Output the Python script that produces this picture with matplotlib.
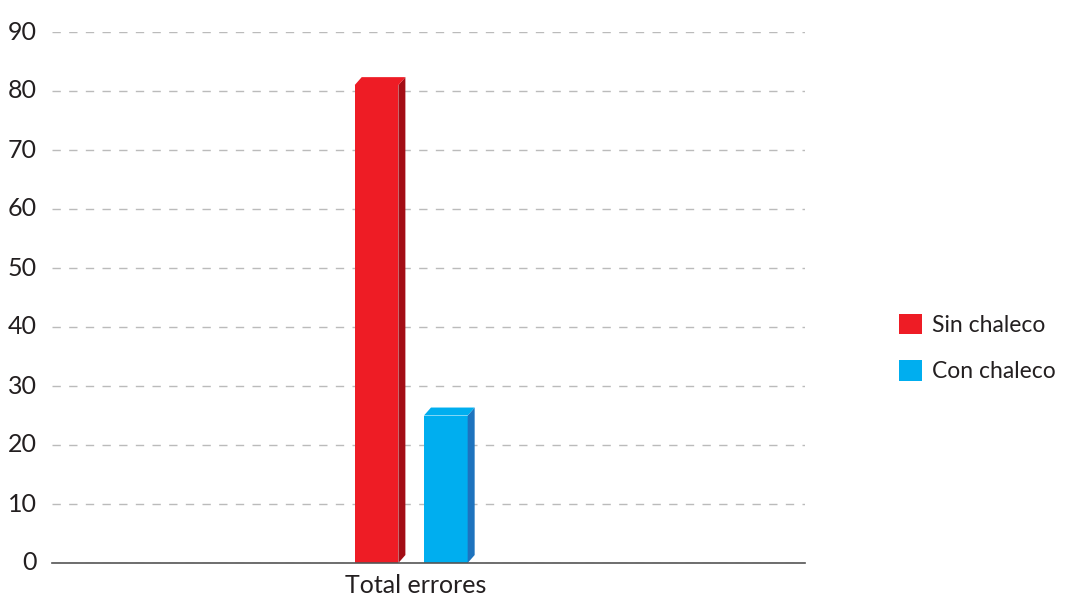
import matplotlib.pyplot as plt
from matplotlib.patches import Polygon, Patch

# data
categories = ["Total errores"]
series = ["Sin chaleco", "Con chaleco"]
values = [81, 25]
colors = ["#EE1C25", "#00AEEF"]
side_colors = ["#A30D15", "#1E73BE"]

plt.rcParams['font.family'] = ['Lato', 'DejaVu Sans']
text_color = "#231F20"

fig = plt.figure(figsize=(10.72, 5.98), dpi=100)
ax = fig.add_axes([52/1072, 1 - 563/598, 753/1072, 531/598])

bar_w = 0.058
gap = 0.034
depth_x = 0.0093
depth_y = 1.35

starts = [-0.081, -0.081 + bar_w + gap]
for x0, v, c, sc in zip(starts, values, colors, side_colors):
	ax.bar(x0, v, width=bar_w, align="edge", color=c, zorder=3)
	# side face
	ax.add_patch(Polygon([(x0 + bar_w, 0), (x0 + bar_w + depth_x, depth_y),
		(x0 + bar_w + depth_x, v + depth_y), (x0 + bar_w, v)],
		closed=True, color=sc, zorder=3, lw=0))
	# top face
	ax.add_patch(Polygon([(x0, v), (x0 + depth_x, v + depth_y),
		(x0 + bar_w + depth_x, v + depth_y), (x0 + bar_w, v)],
		closed=True, color=c, zorder=3, lw=0))

ax.set_xlim(-0.483, 0.517)
ax.set_ylim(0, 90)
ax.set_yticks(range(0, 91, 10))
ax.set_xticks([0])
ax.set_xticklabels(categories)
ax.tick_params(axis="both", length=0, labelsize=18, colors=text_color)
ax.tick_params(axis="y", pad=11)
ax.tick_params(axis="x", pad=8)
for lab in ax.get_yticklabels():
	lab.set_verticalalignment("center")

ax.yaxis.grid(True, linestyle=(0, (6, 6)), color="#BBBBBB", lw=1, zorder=0)
for s in ["top", "right", "left"]:
	ax.spines[s].set_visible(False)
ax.spines["bottom"].set_color("#555555")
ax.spines["bottom"].set_linewidth(1.2)
ax.spines["bottom"].set_zorder(4)

handles = [Patch(facecolor=c, edgecolor="none") for c in colors]
leg = fig.legend(handles, series, loc="center left", bbox_to_anchor=(899/1072, 1 - 348/598),
	frameon=False, fontsize=16.5, handlelength=1.0, handleheight=1.0,
	handletextpad=0.45, labelspacing=1.05, borderpad=0, borderaxespad=0,
	labelcolor=text_color)

fig.savefig("out.png", dpi=100)
